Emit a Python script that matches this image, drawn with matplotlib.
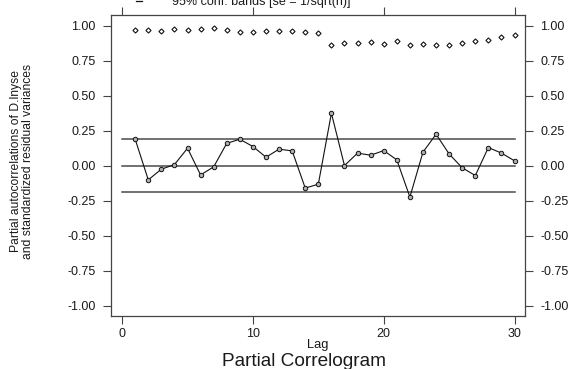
import numpy as np
import matplotlib.pyplot as plt

# partial autocorrelations, lags 1..30
lags = np.arange(1, 31)
pacf = [0.188, -0.102, -0.026, 0.007, 0.124, -0.067, -0.009, 0.159, 0.188, 0.136,
        0.060, 0.117, 0.105, -0.161, -0.133, 0.374, 0.000, 0.089, 0.074, 0.107,
        0.041, -0.225, 0.096, 0.224, 0.083, -0.016, -0.071, 0.129, 0.089, 0.034]
# standardized residual variances
resvar = [0.969, 0.967, 0.962, 0.976, 0.971, 0.976, 0.983, 0.971, 0.955, 0.955,
          0.964, 0.964, 0.962, 0.955, 0.948, 0.862, 0.874, 0.876, 0.883, 0.871,
          0.888, 0.864, 0.867, 0.864, 0.864, 0.876, 0.888, 0.895, 0.917, 0.933]
band = 0.19
yticks = [1.0, 0.75, 0.5, 0.25, 0.0, -0.25, -0.5, -0.75, -1.0]
xticks = [0, 10, 20, 30]

INK = "#111111"
REF = "#4a4a4a"
plt.rcParams["font.family"] = ["Liberation Sans", "DejaVu Sans"]

W, H = 570, 369
fig = plt.figure(figsize=(W / 100, H / 100), dpi=100)
ax = fig.add_axes([111 / W, 1 - 316 / H, (525 - 111) / W, (316 - 15) / H])

ax.plot([0, 30], [band, band], color=REF, lw=1.1, zorder=1)
ax.plot([0, 30], [-band, -band], color=REF, lw=1.1, zorder=1)
ax.plot([0, 30], [0, 0], color=REF, lw=1.1, zorder=1)

ax.plot(lags, pacf, color=INK, lw=0.8, zorder=2,
        marker="o", markersize=3.2, markerfacecolor="#b0b0b0",
        markeredgecolor=INK, markeredgewidth=0.7)
ax.plot(lags, resvar, ls="none", marker="D", markersize=2.6,
        markerfacecolor="white", markeredgecolor=INK, markeredgewidth=0.8, zorder=3)

ax.set_xlim(-0.85, 30.8)
ax.set_ylim(-1.075, 1.076)
ax.set_xticks(xticks)
ax.set_yticks(yticks)
ax.set_yticklabels([f"{v:.2f}" for v in yticks])
ax.tick_params(axis="both", direction="out", length=6, width=0.8, color="#444444",
               labelsize=9, colors="#1a1a1a")
ax.tick_params(axis="y", left=True, right=True, labelleft=True, labelright=True, pad=5)
ax.tick_params(axis="x", bottom=True, top=True, labelbottom=True, labeltop=False, pad=2.5)
for s in ax.spines.values():
    s.set_color("#444444")
    s.set_linewidth(0.9)

fig.text(318 / W, 1 - 348 / H, "Lag", ha="center", va="baseline", fontsize=9.3, color="#1a1a1a")
fig.text(304 / W, 1 - 365.5 / H, "Partial Correlogram", ha="center", va="baseline",
         fontsize=13.7, color="#1a1a1a")
fig.text(22 / W, 1 - 161 / H,
         "Partial autocorrelations of D.lnyse\nand standardized residual variances",
         rotation=90, ha="center", va="center", multialignment="center",
         fontsize=8.7, color="#1a1a1a", linespacing=1.0)

# legend cut off at the top edge
fig.text(261 / W, 1 - 5 / H, "95% conf. bands [se = 1/sqrt(n)]", ha="center",
         va="baseline", fontsize=9, color="#1a1a1a")
fig.lines.append(plt.Line2D([136 / W, 142 / W], [1 - 1 / H, 1 - 1 / H],
                            transform=fig.transFigure, color=INK, lw=0.9))

fig.savefig("out.png", dpi=100, facecolor="white")
